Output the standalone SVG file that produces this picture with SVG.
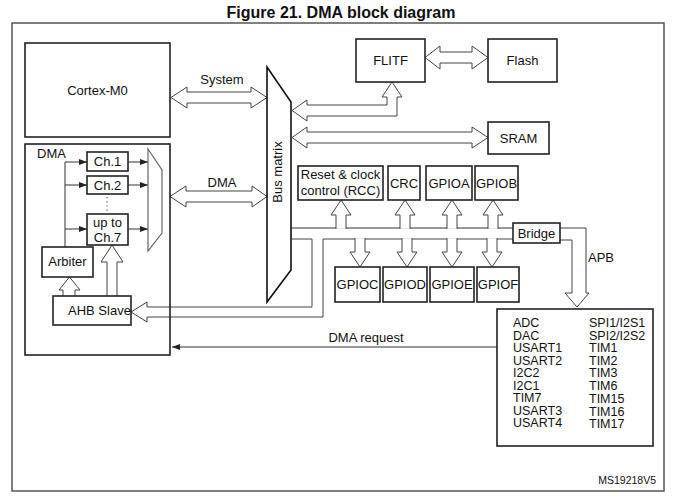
<svg xmlns="http://www.w3.org/2000/svg" width="673" height="499" viewBox="0 0 673 499">
<defs>
<marker id="ah" viewBox="0 0 8 6" refX="8" refY="3" markerWidth="8" markerHeight="6" markerUnits="userSpaceOnUse" orient="auto">
<path d="M0,0 L8,3 L0,6 Z" fill="#222"/>
</marker>
<style>
text{font-family:"Liberation Sans",Arial,sans-serif;fill:#111}
.lb{font-size:13px}
.ls{font-size:12.5px}
.c{text-anchor:middle}
.box{fill:#fff;stroke:#222;stroke-width:1.6}
.ha{fill:#fff;stroke:#444;stroke-width:1}
.hl{fill:none;stroke:#444;stroke-width:1}
.ln{fill:none;stroke:#333;stroke-width:1}
</style>
</defs>
<rect width="673" height="499" fill="#fff"/>
<text x="341" y="18" class="c" style="font-size:16px;font-weight:bold">Figure 21. DMA block diagram</text>
<rect x="12" y="23" width="652" height="468" fill="none" stroke="#555" stroke-width="1.5"/>

<g id="connectors">
<path class="ha" d="M171,97.5 L187,87 L187,92 L251,92 L251,87 L267,97.5 L251,108 L251,103 L187,103 L187,108 Z"/>
<path class="ha" d="M170,196.5 L186,186 L186,191 L252,191 L252,186 L267,196.5 L252,207 L252,202 L186,202 L186,207 Z"/>
<path class="ha" d="M425,57.5 L440,46 L440,52 L472,52 L472,46 L488,57.5 L472,69 L472,63 L440,63 L440,69 Z"/>
<path class="ha" d="M387,97 L387,105 L307,105 L307,100 L292,110.5 L307,121 L307,116 L397,116 L397,97 L402,97 L392,82 L382,97 Z"/>
<path class="ha" d="M292,137.5 L307,127 L307,132 L472,132 L472,127 L488,137.5 L472,148 L472,143 L307,143 L307,148 Z"/>
<path class="ln" d="M291,228 L513,228"/>
<path class="hl" d="M292,239 L312,239 L312,307 L147,307 L147,302 L131,312 L147,322 L147,317 L323,317 L323,239 L513,239"/>
<path class="ha" d="M336,228.8 L336,215 L331,215 L341,200 L351,215 L346,215 L346,228.8"/>
<path class="ha" d="M400,228.8 L400,215 L395,215 L405,200 L415,215 L410,215 L410,228.8"/>
<path class="ha" d="M447,228.8 L447,215 L442,215 L452,200 L462,215 L457,215 L457,228.8"/>
<path class="ha" d="M488,228.8 L488,215 L483,215 L493,200 L503,215 L498,215 L498,228.8"/>
<path class="ha" d="M355,238.2 L355,252 L350,252 L360,267 L370,252 L365,252 L365,238.2"/>
<path class="ha" d="M402,238.2 L402,252 L397,252 L407,267 L417,252 L412,252 L412,238.2"/>
<path class="ha" d="M447,238.2 L447,252 L442,252 L452,267 L462,252 L457,252 L457,238.2"/>
<path class="ha" d="M487,238.2 L487,252 L482,252 L492,267 L502,252 L497,252 L497,238.2"/>
<path class="ha" d="M560,228 L586,228 L586,293 L589,293 L577,307 L565,293 L572,293 L572,240 L560,240"/>
<path class="ln" d="M497,347 L172,347" marker-end="url(#ah)"/>
<path class="ln" d="M65,247 L65,162"/>
<path class="ln" d="M65,162 L87,162" marker-end="url(#ah)"/>
<path class="ln" d="M65,185 L87,185" marker-end="url(#ah)"/>
<path class="ln" d="M65,229 L87,229" marker-end="url(#ah)"/>
<path class="ln" d="M128,162 L148,162" marker-end="url(#ah)"/>
<path class="ln" d="M128,185 L148,185" marker-end="url(#ah)"/>
<path class="ln" d="M128,229 L148,229" marker-end="url(#ah)"/>
<path d="M107,197 L107,213" stroke="#555" stroke-width="1.2" stroke-dasharray="1.2,3" fill="none"/>
<path class="ha" d="M63,296 L63,290 L59,290 L69.5,277 L80,290 L75,290 L75,296"/>
<path class="ha" d="M107,296 L107,262 L101,262 L112,245 L123,262 L117,262 L117,296"/>
<text x="222" y="84" class="lb c">System</text>
<text x="222" y="187" class="lb c">DMA</text>
<text x="366" y="342" class="lb c">DMA request</text>
<text x="601" y="262" class="lb c">APB</text>
</g>

<g id="cortex">
<rect class="box" x="25" y="43" width="145" height="94"/>
<text x="97.5" y="95" class="lb c">Cortex-M0</text>
</g>

<g id="dma">
<rect class="box" x="25" y="144" width="145" height="211" style="fill:none"/>
<text x="37" y="158" class="lb">DMA</text>
</g>

<g id="ch1">
<rect class="box" x="87" y="152" width="41" height="19"/>
<text x="107.5" y="166" class="lb c">Ch.1</text>
</g>
<g id="ch2">
<rect class="box" x="87" y="176" width="41" height="18"/>
<text x="107.5" y="190" class="lb c">Ch.2</text>
</g>
<g id="ch7">
<rect class="box" x="87" y="214" width="41" height="31"/>
<text x="107.5" y="227" class="lb c">up to</text>
<text x="107.5" y="242" class="lb c">Ch.7</text>
</g>
<g id="mux">
<polygon points="148,149 162,170 162,233 148,251" fill="#fff" stroke="#666" stroke-width="1.2"/>
</g>
<g id="arbiter">
<rect class="box" x="42" y="247" width="51" height="30"/>
<text x="67.5" y="266" class="lb c">Arbiter</text>
</g>
<g id="ahb">
<rect class="box" x="53" y="296" width="78" height="29"/>
<text x="68" y="315" class="lb">AHB Slave</text>
</g>

<g id="busmatrix">
<polygon points="267,67 291,102 291,270 267,302" fill="#fff" stroke="#111" stroke-width="1.6"/>
<text transform="translate(282,172) rotate(-90)" class="lb c">Bus matrix</text>
</g>

<g id="flitf">
<rect class="box" x="356" y="39" width="69" height="43"/>
<text x="390.5" y="65" class="lb c">FLITF</text>
</g>
<g id="flash">
<rect class="box" x="488" y="39" width="69" height="43"/>
<text x="522.5" y="65" class="lb c">Flash</text>
</g>
<g id="sram">
<rect class="box" x="488" y="122" width="61" height="32"/>
<text x="518.5" y="143" class="lb c">SRAM</text>
</g>

<g id="rcc">
<rect class="box" x="298" y="166" width="85" height="34"/>
<text x="340.5" y="179" class="lb c">Reset &amp; clock</text>
<text x="340.5" y="195" class="lb c">control (RCC)</text>
</g>
<g id="crc">
<rect class="box" x="388" y="166" width="32" height="34"/>
<text x="404" y="188" class="lb c">CRC</text>
</g>
<g id="gpioa">
<rect class="box" x="426" y="166" width="46" height="34"/>
<text x="449" y="188" class="lb c">GPIOA</text>
</g>
<g id="gpiob">
<rect class="box" x="475" y="166" width="43" height="34"/>
<text x="496.5" y="188" class="lb c">GPIOB</text>
</g>

<g id="gpioc">
<rect class="box" x="335" y="267" width="45" height="35"/>
<text x="357.5" y="289" class="lb c">GPIOC</text>
</g>
<g id="gpiod">
<rect class="box" x="383" y="267" width="44" height="35"/>
<text x="405" y="289" class="lb c">GPIOD</text>
</g>
<g id="gpioe">
<rect class="box" x="430" y="267" width="44" height="35"/>
<text x="452" y="289" class="lb c">GPIOE</text>
</g>
<g id="gpiof">
<rect class="box" x="477" y="267" width="42" height="35"/>
<text x="498" y="289" class="lb c">GPIOF</text>
</g>

<g id="bridge">
<rect class="box" x="513" y="223" width="47" height="20"/>
<text x="536.5" y="238" class="lb c">Bridge</text>
</g>

<g id="peripherals">
<rect class="box" x="497" y="309" width="156" height="137"/>
<text x="513" y="327" class="ls">ADC</text>
<text x="513" y="339.5" class="ls">DAC</text>
<text x="513" y="352" class="ls">USART1</text>
<text x="513" y="364.5" class="ls">USART2</text>
<text x="513" y="377" class="ls">I2C2</text>
<text x="513" y="389.5" class="ls">I2C1</text>
<text x="513" y="402" class="ls">TIM7</text>
<text x="513" y="414.5" class="ls">USART3</text>
<text x="513" y="427" class="ls">USART4</text>
<text x="589" y="327" class="ls">SPI1/I2S1</text>
<text x="589" y="339.5" class="ls">SPI2/I2S2</text>
<text x="589" y="352" class="ls">TIM1</text>
<text x="589" y="364.5" class="ls">TIM2</text>
<text x="589" y="377" class="ls">TIM3</text>
<text x="589" y="389.5" class="ls">TIM6</text>
<text x="589" y="403" class="ls">TIM15</text>
<text x="589" y="415.5" class="ls">TIM16</text>
<text x="589" y="428" class="ls">TIM17</text>
</g>
<text x="656" y="484" style="font-size:10.5px;text-anchor:end">MS19218V5</text>
</svg>
